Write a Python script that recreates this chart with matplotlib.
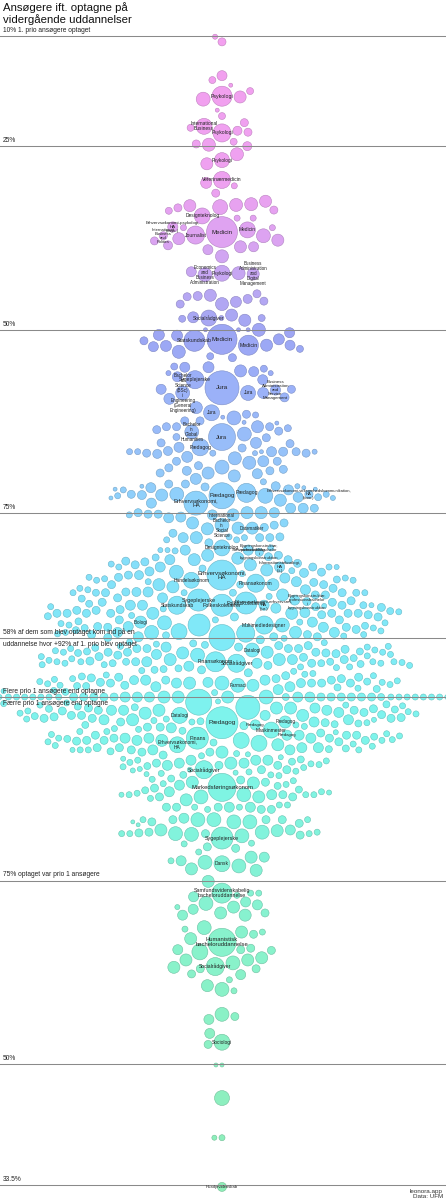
import numpy as np
import matplotlib
matplotlib.use("Agg")
import matplotlib.pyplot as plt

plt.rcParams['font.family'] = ['Liberation Sans', 'DejaVu Sans']

# Øverste del: andel af 1. prio ansøgere der blev optaget (%) og antal optagne
top_pct = [
    10.8, 10.1, 15.4, 16.0, 16.7, 17.5, 18.6, 18.3, 20.1, 20.9, 21.8,
    23.1, 22.9, 22.5, 24.7, 24.8, 25.0, 26.1, 24.4, 27.4, 30.0, 30.4, 31.4,
    33.1, 33.3, 32.5, 33.0, 33.4, 33.7, 32.9, 33.8, 34.8, 34.8, 36.1, 37.6, 36.1, 38.7, 37.8, 38.7, 37.9, 38.5, 37.2, 39.1, 40.0,
    42.1, 42.3, 45.5, 46.5, 45.1, 45.3, 45.4, 46.2, 45.8, 46.1, 46.5, 48.0, 48.4, 48.3, 48.7, 48.5, 48.4,
    50.0, 50.0, 50.0, 50.0, 50.4, 50.8, 52.1, 52.1, 52.2, 51.3, 51.5, 50.7, 52.3, 53.0, 52.6, 53.6, 53.8, 55.3, 55.9, 55.6, 55.7, 55.1, 55.1, 56.8, 55.9, 55.0,
    56.4, 58.6, 58.1, 59.4, 58.1, 59.2, 60.6, 61.6, 62.0, 61.9, 61.5, 62.4, 62.6, 63.2, 62.7, 62.4, 63.2, 63.2,
    63.4, 63.2, 63.8, 63.6, 64.2, 64.6, 65.4, 66.1, 65.4, 64.7, 65.5, 66.0, 66.6, 66.8, 66.8, 66.8, 66.8, 66.6, 66.5, 66.6, 66.6, 66.6, 66.6, 66.9, 66.6,
    67.3, 67.5, 68.5, 67.9, 67.9, 68.7, 67.9, 68.1, 68.8, 69.0, 69.2, 69.2, 69.5, 70.3, 69.6, 69.9, 69.5, 70.7, 71.0, 71.5, 71.3, 71.8,
    72.4, 72.4, 73.2, 72.6, 71.0, 71.5, 71.4, 71.8, 72.5, 72.8, 72.6, 72.4, 72.9, 72.5, 72.8, 72.9, 71.3, 73.6, 71.3, 71.7, 71.7,
    75.1, 75.2, 74.9, 75.1, 74.9, 75.5, 75.2, 74.9, 75.6, 74.9, 74.3, 75.2, 74.3, 74.3,
    77.1, 77.0, 76.9, 76.6, 76.3, 76.3, 77.7, 78.3, 78.3, 78.2, 78.3, 78.6, 78.3, 78.2, 78.3, 78.6, 79.0,
    80.9, 80.7, 80.1, 81.3, 80.7, 81.1, 80.0, 79.7, 80.0, 80.0, 81.3, 82.0, 81.3, 82.9, 82.3, 82.3, 83.1, 83.4, 81.8, 82.3, 81.6, 82.0, 82.7, 82.3, 83.0, 82.3, 83.4,
    81.5, 81.9, 82.5, 83.0, 83.9, 84.4, 82.8, 81.0, 84.0, 83.2,
    84.7, 83.8, 84.7, 85.0, 83.8, 84.1, 84.1, 83.7, 84.7, 84.7, 84.3, 84.3, 83.7, 85.7, 85.8, 85.8, 86.1, 85.7, 85.4, 86.1, 85.8, 85.7, 85.2, 85.8, 85.4, 86.1, 84.7, 85.2, 85.8, 85.8, 85.8, 85.8, 86.5, 86.5, 86.8,
    87.1, 87.1, 87.7, 87.9, 87.5, 87.5, 88.1, 87.6, 87.7, 87.5, 88.6, 88.8, 88.6, 88.6, 88.5, 88.6, 88.2, 88.6, 88.6, 88.6, 88.2, 88.8, 89.1, 88.6, 89.1, 88.6, 87.5, 87.5,
    86.3, 86.9, 87.3, 88.0, 88.3, 88.9, 86.6, 87.8, 88.4, 89.0,
    90.2, 89.9, 89.5, 89.5, 89.8, 91.3, 90.2, 90.5, 90.6, 89.5, 89.8, 90.6, 90.4, 90.5, 90.5, 90.4, 90.2,
    91.1, 91.2, 91.2, 91.8, 91.9, 91.2, 91.2, 91.5, 91.8, 91.5, 91.2, 91.8, 91.5, 91.9, 92.9, 92.5,
    89.7, 90.0, 90.8, 91.0, 91.6, 92.0, 90.3, 91.4, 92.2, 90.9, 89.9, 91.7,
    93.0, 93.2, 93.4, 93.4, 93.4, 93.2, 93.0, 94.0, 93.4, 93.2, 93.9, 94.3, 93.9, 93.9, 93.4, 94.0, 93.6, 94.3, 93.9, 94.9, 93.9, 94.6, 93.9,
    92.8, 93.3, 93.7, 94.1, 94.4, 94.7, 93.1, 93.8, 94.2, 94.8, 93.5, 92.7,
    95.2, 95.2, 95.2, 95.4, 94.2, 94.9, 95.2, 94.5, 94.9, 95.4, 95.4, 94.9, 95.2, 95.8, 95.4, 95.2, 95.4, 95.2, 95.4, 95.2, 95.6, 96.5, 96.3,
    95.0, 95.5, 95.9, 96.1, 96.4, 96.7, 96.0, 95.7, 96.9, 95.3, 96.2, 95.6,
    98.1, 98.4, 98.0, 98.1, 98.4, 97.7, 97.5, 98.1, 97.7, 98.1, 97.5, 98.4, 97.1, 97.7, 99.0, 98.1, 98.1, 97.3, 98.6, 97.7, 98.0, 98.1, 97.5, 98.6, 97.7, 98.0, 97.1, 98.1,
    97.2, 97.6, 97.9, 98.3, 98.7, 99.1, 99.3, 97.4, 98.2, 98.8, 99.4, 97.8, 98.5, 99.2,
    93.1, 93.8, 94.5, 95.1, 95.7, 96.3, 96.8, 97.3, 97.9, 98.5, 92.6, 94.0, 95.9, 97.0, 98.9,
    100, 100, 100, 100, 100, 100, 100, 100, 100, 100, 100, 100, 100, 100, 100, 100, 100,
    100, 100, 100, 100, 100, 100, 100, 100, 100, 100, 100, 100, 100, 100, 100, 100, 100,
    100, 100, 100, 100,
]
top_n = [
    53, 21, 83, 40, 13, 40, 160, 120, 13, 40, 53,
    53, 67, 40, 53, 140, 67, 140, 40, 120, 100, 30, 53,
    120, 185, 120, 140, 53, 53, 140, 40, 30, 30, 30, 120, 30, 120, 120, 83, 53, 67, 160, 83, 140,
    83, 140, 53, 140, 53, 120, 67, 100, 67, 53, 53, 120, 21, 100, 120, 40, 40,
    13, 13, 13, 140, 83, 100, 120, 83, 100, 100, 53, 100, 83, 140, 40, 40, 53, 40, 21, 120, 83, 83, 100, 83, 21, 40,
    83, 100, 83, 100, 53, 67, 120, 30, 160, 13, 53, 53, 13, 120, 13, 53, 53, 53,
    40, 53, 53, 53, 160, 40, 53, 53, 100, 53, 53, 83, 53, 21, 53, 53, 30, 21, 67, 83, 30, 13, 67, 67, 30,
    100, 140, 53, 100, 53, 160, 53, 140, 53, 53, 67, 53, 120, 100, 83, 120, 53, 30, 53, 13, 13, 83,
    160, 53, 120, 185, 53, 83, 53, 30, 120, 83, 30, 30, 21, 67, 40, 13, 67, 83, 21, 13, 13,
    53, 120, 120, 53, 53, 83, 30, 83, 83, 120, 83, 83, 53, 83,
    120, 120, 53, 53, 120, 53, 53, 83, 53, 30, 120, 30, 53, 53, 30, 30, 53,
    53, 120, 30, 83, 53, 120, 83, 30, 21, 21, 120, 120, 53, 67, 30, 21, 67, 67, 53, 83, 53, 53, 120, 30, 160, 53, 53,
    53, 30, 40, 53, 30, 53, 30, 40, 40, 30,
    120, 83, 40, 120, 30, 30, 30, 53, 53, 53, 83, 30, 30, 67, 30, 40, 53, 83, 30, 120, 30, 53, 30, 30, 83, 53, 120, 53, 53, 40, 53, 40, 83, 53, 83,
    53, 53, 53, 83, 83, 53, 53, 21, 30, 40, 120, 53, 53, 120, 83, 53, 53, 53, 53, 53, 53, 53, 53, 53, 53, 53, 21, 83,
    30, 53, 40, 30, 40, 30, 40, 53, 30, 40,
    400, 160, 53, 53, 30, 270, 160, 53, 40, 30, 83, 30, 83, 53, 83, 53, 30,
    210, 160, 120, 53, 560, 83, 30, 30, 83, 53, 83, 53, 53, 53, 40, 30,
    40, 30, 53, 30, 40, 30, 40, 30, 53, 40, 30, 30,
    53, 30, 53, 53, 53, 83, 53, 120, 53, 53, 53, 160, 53, 120, 30, 53, 30, 53, 53, 120, 30, 53, 30,
    30, 40, 30, 53, 30, 40, 30, 40, 30, 30, 53, 40,
    40, 30, 30, 40, 83, 120, 53, 53, 83, 83, 30, 53, 83, 83, 30, 40, 40, 30, 53, 30, 30, 30, 53,
    30, 40, 30, 40, 30, 53, 30, 53, 30, 30, 40, 30,
    67, 30, 83, 53, 53, 53, 30, 83, 67, 53, 53, 120, 53, 83, 83, 160, 120, 53, 83, 53, 30, 53, 53, 83, 83, 53, 30, 53,
    40, 30, 40, 30, 40, 30, 40, 53, 30, 30, 30, 30, 40, 21,
    30, 40, 30, 53, 30, 40, 30, 53, 30, 40, 30, 40, 30, 30, 40,
    53, 53, 83, 53, 30, 83, 53, 120, 53, 83, 160, 120, 53, 30, 120, 30, 30,
    30, 53, 83, 30, 30, 30, 83, 30, 30, 53, 30, 53, 40, 53, 30, 40, 53,
    30, 21, 30, 21,
]

# Nederste del: andel af de optagne der var 1. prio ansøgere (%) og antal optagne
bot_pct = [
    99.3, 98.6, 98.5, 98.2, 98.2, 98.2, 98.5, 98.2, 98.5, 98.2, 98.5, 98.2, 97.8, 97.9, 97.9, 97.5, 97.5,
    99.0, 98.8, 98.4, 98.0, 98.7, 99.2, 98.3, 97.7, 98.9, 98.1,
    99.1, 98.6, 98.1, 97.6, 99.4, 98.9, 98.4, 97.8,
    96.6, 95.9, 97.3, 95.9, 95.8, 96.2, 96.6, 96.9, 97.5, 97.1, 97.5, 97.1, 96.9, 97.1, 96.1, 96.9, 96.6, 96.5, 95.1,
    96.3, 96.8, 97.2, 96.0, 96.4, 97.0, 96.7, 95.6, 95.4, 96.5,
    97.0, 96.2, 95.7, 96.9, 95.3, 97.4,
    94.1, 94.4, 94.4, 93.9, 94.4, 94.1, 94.8, 94.4, 94.8, 94.1, 94.8, 94.1, 94.1, 94.4, 94.8, 94.1, 94.4, 94.1,
    94.6, 95.0, 94.2, 93.8, 94.9, 94.0, 93.6, 95.3, 94.3, 94.7, 93.9, 95.2,
    92.8, 93.1, 92.8, 92.8, 93.7, 92.8, 93.1, 93.5, 92.5, 92.5, 92.8, 92.1, 92.8, 93.1, 92.5, 93.1, 92.8,
    92.3, 92.9, 93.3, 92.6, 92.0, 93.4, 92.2, 93.0,
    91.8, 91.0, 91.0, 91.4, 90.1, 91.4, 91.0, 90.7, 91.4, 90.7, 91.0, 91.4, 90.1, 89.8, 89.4, 89.4, 90.1, 90.7,
    90.4, 91.2, 89.9, 90.9, 91.6, 90.6, 91.1, 89.6, 90.2,
    90.8, 90.0, 89.3, 91.5, 89.7, 90.5, 91.3, 89.5,
    88.4, 88.7, 88.4, 88.3, 88.0, 86.0, 86.7, 86.4, 86.7, 86.4, 86.7, 86.4, 86.7, 87.1, 86.4, 86.9, 86.7, 86.7, 86.7, 87.1,
    88.9, 88.1, 87.6, 88.6, 87.3,
    88.2, 87.9, 87.0, 88.8, 86.2, 87.4,
    85.0, 84.7, 85.0, 85.0, 84.7, 85.0, 85.0, 84.7, 85.3, 85.0, 85.3, 85.0,
    83.3, 82.6, 83.3, 83.0, 83.3, 83.0, 83.3, 82.8, 83.5, 83.0, 83.0, 83.3, 83.3, 83.3,
    81.8, 81.3, 81.9, 81.4, 81.4, 81.6, 81.4, 81.6, 81.9, 81.2, 81.1, 81.5, 81.6, 81.4, 81.4,
    80.1, 79.6, 78.9, 79.4, 80.0, 78.2, 77.7, 77.5, 77.0, 77.7, 78.2, 76.6, 76.4, 74.9,
    73.0, 73.3, 71.9, 72.1, 71.4, 73.3, 72.8, 71.7, 71.1, 71.4, 70.6, 70.3, 70.6, 70.3,
    68.4, 68.6, 68.0, 67.7, 68.0, 67.1, 65.5, 65.6, 65.8, 65.3, 65.6, 64.2, 63.8, 64.2, 64.5, 63.0, 62.2, 63.2, 63.0, 62.3, 61.5, 60.7, 60.2, 60.0,
    56.5, 56.8, 56.1, 54.2, 52.7, 49.9, 49.9, 45.4, 40.0, 40.0,
]
bot_n = [
    560, 475, 83, 53, 83, 53, 53, 83, 120, 120, 120, 83, 120, 53, 83, 53, 53,
    40, 30, 53, 30, 40, 30, 40, 30, 30, 53,
    30, 40, 30, 53, 21, 30, 40, 30,
    30, 53, 53, 53, 83, 30, 83, 83, 120, 53, 83, 53, 83, 53, 53, 120, 53, 53, 53,
    40, 30, 53, 30, 40, 30, 40, 30, 40, 30,
    30, 40, 30, 21, 30, 40,
    30, 53, 53, 53, 30, 53, 53, 83, 83, 120, 53, 210, 83, 83, 53, 53, 83, 53,
    40, 30, 30, 40, 30, 53, 30, 30, 40, 30, 30, 21,
    21, 53, 30, 30, 210, 83, 83, 120, 120, 53, 83, 53, 53, 83, 53, 53, 30,
    30, 40, 30, 40, 30, 30, 21, 40,
    21, 120, 83, 83, 53, 83, 83, 53, 83, 53, 53, 30, 21, 30, 40, 30, 53, 83,
    30, 40, 30, 30, 21, 40, 30, 30, 21,
    30, 21, 30, 40, 21, 30, 30, 21,
    120, 53, 53, 120, 83, 120, 53, 160, 30, 120, 83, 53, 160, 83, 53, 30, 30, 30, 21, 30,
    40, 30, 53, 30, 40,
    30, 40, 21, 30, 30, 40,
    53, 30, 83, 30, 53, 53, 30, 53, 30, 83, 30, 53,
    53, 13, 160, 53, 30, 160, 160, 53, 83, 160, 13, 53, 53, 30,
    120, 160, 83, 53, 30, 160, 30, 53, 120, 53, 160, 53, 30, 160, 30,
    30, 53, 30, 53, 30, 120, 30, 160, 160, 83, 83, 120, 120, 120,
    30, 30, 160, 83, 21, 30, 83, 83, 83, 120, 120, 120, 53, 83,
    30, 160, 120, 53, 30, 120, 53, 53, 53, 210, 83, 120, 160, 120, 120, 53, 83, 120, 53, 53, 30, 120, 160, 30,
    53, 160, 83, 83, 53, 13, 13, 185, 21, 30,
]

# Uddannelser med navn på boblen
navn = [
    "Psykologi", "International\nBusiness", "Psykologi", "Psykologi", "Veterinærmedicin",
    "Designteknolog", "Medicin", "Medicin", "Journalist", "Erhvervsøkonomi-psykologi,\nHA\n(psyk.)",
    "International\nBusiness\nand\nPolitics", "Economics\nand\nBusiness\nAdministration", "Psykologi",
    "Business\nAdministration\nand\nDigital\nManagement", "Socialrådgiver", "Statskundskab", "Medicin", "Medicin",
    "Sygeplejerske", "Jura", "Bachelor\nof\nScience\n(BSc)\ni\nEngineering\n(General\nEngineering)", "Jura",
    "Business\nAdministration\nand\nService\nManagement", "Jura", "Bachelor\nin\nGlobal\nHumanities", "Jura",
    "Pædagog", "Pædagog", "Pædagog", "Erhvervsøkonomi-virksomhedskommunikation,\nHA\n(kom.)", "Erhvervsøkonomi,\nHA",
    "Datamatiker", "International\nBachelor\nin\nSocial\nScience", "Designteknolog",
    "Bygningskonstruktør,\nprofessionsbachelor\ni\nbygningskonstruktion", "Softwareudvikling", "Erhvervsøkonomi,\nHA",
    "Informationsteknologi,\nHA\n(it.)", "Finansøkonom", "Handelsøkonom",
    "Bygningskonstruktør,\nprofessionsbachelor\ni\nbygningskonstruktion", "Statskundskab", "Folkeskolelærer",
    "Sygeplejerske", "Folkeskolelærer", "Erhvervsøkonomi-erhvervsret,\nHA\n(jur.)", "Biologi", "Multimediedesigner",
    "Datalogi", "Socialrådgiver", "Finansøkonom", "Farmaci",
    "Pædagog", "Pædagog", "Pædagog", "Datalogi", "Finans", "Maskinmester", "Pædagog", "Erhvervsøkonomi,\nHA",
    "Socialrådgiver", "Markedsføringsøkonom", "Sygeplejerske", "Dansk",
    "Samfundsvidenskabelig\nbacheloruddannelse", "Humanistisk\nbacheloruddannelse", "Socialrådgiver", "Sociologi",
    "Husdyrvidenskab",
]
navn_del = ["top"] * 52 + ["bot"] * 17
navn_pct = [
    18.2, 22.3, 23.2, 26.9, 29.6, 34.5, 36.7, 36.4, 37.1, 36.0, 37.2, 42.5, 42.3, 42.4, 48.4, 51.5, 51.3, 52.1,
    56.8, 57.9, 58.6, 58.6, 58.2, 61.3, 63.9, 64.6, 66.0, 72.2, 72.6, 72.4, 73.6, 77.0, 76.6, 79.7, 80.3, 80.0,
    83.4, 82.3, 84.5, 84.1, 87.0, 87.5, 87.5, 86.8, 87.2, 87.5, 89.8, 90.2, 93.6, 95.4, 95.2, 98.4,
    96.5, 96.2, 96.6, 97.5, 94.4, 95.5, 94.8, 93.5, 90.1, 87.7, 80.8, 77.3, 73.3, 66.6, 63.3, 53.0, 33.3,
]
navn_n = [
    330, 210, 270, 185, 240, 210, 790, 210, 270, 85, 55, 160, 210, 120, 210, 365, 745, 330,
    270, 955, 160, 185, 85, 210, 160, 600, 240, 300, 560, 55, 475, 120, 160, 210, 55, 85,
    745, 85, 270, 210, 55, 270, 400, 400, 400, 85, 120, 270, 160, 270, 330, 160,
    845, 85, 120, 210, 400, 210, 85, 210, 270, 650, 400, 210, 330, 650, 270, 210, 67,
]

assert len(top_pct) == len(top_n) and len(bot_pct) == len(bot_n)
assert len(navn) == len(navn_del) == len(navn_pct) == len(navn_n)

# linjer på aksen
linje_top = [10, 25, 50, 75, 92, 100]
tekst_top = ["10% 1. prio ansøgere optaget", "25%", "50%", "75%",
             "58% af dem som blev optaget kom ind på en", "Flere prio 1 ansøgere end optagne"]
linje_bot = [75, 50, 33.5]
tekst_bot = ["75% optaget var prio 1 ansøgere", "50%", "33.5%"]
under_tekst = {92: "uddannelse hvor +92% af 1. prio blev optaget", 100: "Færre prio 1 ansøgere end optagne"}

# farveforløb ned gennem grafen
grad_u = [10, 30, 37, 42, 47, 51, 58, 65, 70, 74, 80, 90, 97, 100, 106, 115, 123, 133, 150, 167]
grad_c = ['#f3a0ef', '#eea1f0', '#dea3f1', '#c9a6f2', '#aea7f3', '#9ca6f4', '#9bb1f8', '#98bef9',
          '#93cafa', '#8cd3fb', '#86ddfa', '#80e8f8', '#7eeef4', '#7ef2f0', '#7ef4ea', '#80f4e0',
          '#84f2d6', '#88f2cc', '#8cf0c2', '#8eeeb8']


def beeswarm(ys, rs, cx, pad=2.1):
    xs = np.full(len(ys), np.nan)
    done = []
    for i in np.argsort(-rs, kind="stable"):
        y, r = ys[i], rs[i]
        d = np.array(done, dtype=int)
        if len(d):
            dy = ys[d] - y
            rr = rs[d] + r + pad
            near = np.abs(dy) < rr
            d, dy, rr = d[near], dy[near], rr[near]
        if len(d) == 0:
            xs[i] = cx
            done.append(i)
            continue
        dx = np.sqrt(rr ** 2 - dy ** 2)
        cand = np.concatenate([[cx], xs[d] - dx, xs[d] + dx])
        cand = cand[np.argsort(np.abs(cand - cx), kind="stable")]
        dist2 = (cand[:, None] - xs[d][None, :]) ** 2 + dy[None, :] ** 2
        ok = (dist2 >= rr[None, :] ** 2 - 1e-3).all(axis=1)
        xs[i] = cand[np.argmax(ok)]
        done.append(i)
    return xs


pct_all = np.array(top_pct + bot_pct + navn_pct, dtype=float)
del_all = np.array(["top"] * len(top_pct) + ["bot"] * len(bot_pct) + navn_del)
n_all = np.array(top_n + bot_n + navn_n, dtype=float)
labels = [""] * (len(top_pct) + len(bot_pct)) + navn
# én lodret akse: øverste del 10 -> 100, nederste del 100 -> 33.5
u = np.where(del_all == "top", pct_all, 200 - pct_all)

fig = plt.figure(figsize=(4.46, 12), dpi=100)
ax = fig.add_axes([0, 0, 1, 1])
ax.set_xlim(0, 446)
ax.set_ylim(168.48, 5.10)
ax.axis("off")

r_px = 0.55 * np.sqrt(n_all)
disp = ax.transData.transform(np.column_stack([np.full(len(u), 222.0), u]))
x_disp = beeswarm(disp[:, 1], r_px, disp[0, 0])
x = ax.transData.inverted().transform(np.column_stack([x_disp, disp[:, 1]]))[:, 0]

rgb = np.array([matplotlib.colors.to_rgb(c) for c in grad_c])
cols = np.column_stack([np.interp(u, grad_u, rgb[:, k]) for k in range(3)])
edges = cols * 0.8

ax.scatter(x, u, s=(2 * r_px * 0.72) ** 2, c=cols, edgecolors=edges, linewidths=0.4, zorder=2)

for xi, ui, ri, lab in zip(x, u, r_px, labels):
    if lab:
        ax.text(xi, ui, lab, ha="center", va="center", fontsize=2.5 + 0.125 * ri,
                color="#222222", linespacing=1.0, zorder=4)

# vandrette linjer og tekster
for val, txt in zip(linje_top, tekst_top):
    ax.axhline(val, color="#8a8a8a", lw=0.75, zorder=3)
    ax.annotate(txt, (3, val), xytext=(0, 1.6), textcoords="offset points",
                fontsize=4.8, color="#222222", va="bottom", ha="left", zorder=5)
    if val in under_tekst:
        ax.annotate(under_tekst[val], (3, val), xytext=(0, -1.8), textcoords="offset points",
                    fontsize=4.8, color="#222222", va="top", ha="left", zorder=5)
for val, txt in zip(linje_bot, tekst_bot):
    ax.axhline(200 - val, color="#8a8a8a", lw=0.75, zorder=3)
    ax.annotate(txt, (3, 200 - val), xytext=(0, 1.6), textcoords="offset points",
                fontsize=4.8, color="#222222", va="bottom", ha="left", zorder=5)

fig.text(3 / 446, 1 - 2 / 1200, "Ansøgere ift. optagne på\nvidergående uddannelser",
         fontsize=8.2, color="#111111", va="top", ha="left", linespacing=1.15)
fig.text(443 / 446, 1 - 1194 / 1200, "leonora.app\nData: UFM", fontsize=4.5,
         color="#333333", va="center", ha="right", linespacing=0.95)

fig.savefig("out.png", dpi=100)
